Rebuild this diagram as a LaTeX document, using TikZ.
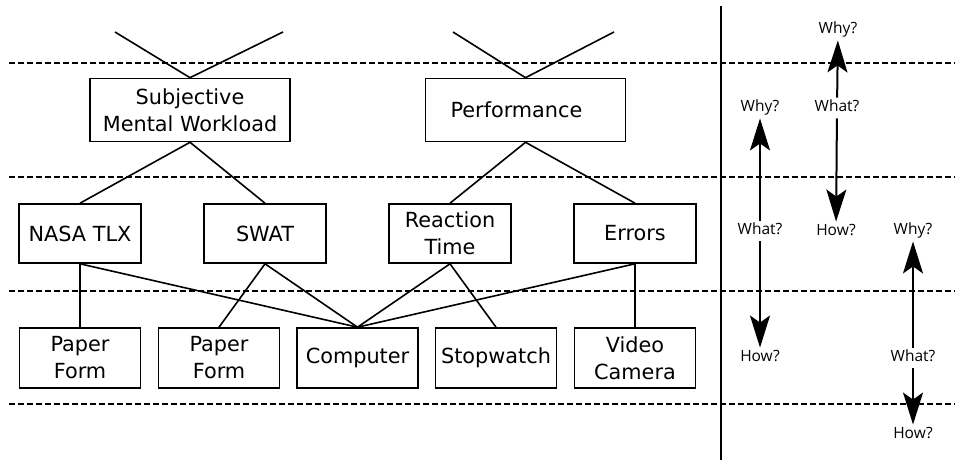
\documentclass[tikz,border=0pt]{standalone}
\usepackage{fontspec}
\setmainfont{DejaVu Sans}
\newfontfamily\qfont{Open Sans}
\usetikzlibrary{arrows.meta}

\begin{document}
\begin{tikzpicture}[x=1pt,y=-1pt,
  box/.style={draw, line width=1.6pt, inner sep=0pt, align=center,
    font=\fontsize{20.8}{27}\selectfont},
  topbox/.style={box, minimum width=200pt, minimum height=63pt},
  midbox/.style={box, minimum width=122pt, minimum height=59pt},
  lowbox/.style={box, minimum width=121pt, minimum height=60pt},
  link/.style={line width=1.6pt},
  level/.style={line width=1.6pt, dash pattern=on 6pt off 3pt},
  qlabel/.style={font=\qfont\fontsize{15.5}{17}\selectfont, inner sep=3pt,
    text height=11pt, text depth=3.5pt},
  qarrow/.style={line width=2pt, -{Stealth[length=32pt, width=20pt, inset=7pt]}}
]
\useasboundingbox (0,0) rectangle (955,462);

% level separators and the divider
\draw[level] (9,63) -- (955,63);
\draw[level] (9,177) -- (955,177);
\draw[level] (9,291) -- (955,291);
\draw[level] (9,404) -- (955,404);
\draw[line width=1.8pt] (721,6) -- (721,460);

% goals
\node[topbox] (smw) at (190,110) {Subjective\\Mental Workload};
\node[topbox, label={[font=\fontsize{20.8}{27}\selectfont, xshift=-9pt]center:Performance}] (perf) at (525.5,110) {};

% measures
\node[midbox] (nasa) at (80,233.5) {NASA TLX};
\node[midbox] (swat) at (265,233.5) {SWAT};
\node[midbox] (rt)   at (450,233.5) {Reaction\\Time};
\node[midbox] (err)  at (635,233.5) {Errors};

% instruments
\node[lowbox] (pf1)   at (80,358)    {Paper\\Form};
\node[lowbox] (pf2)   at (219,358)   {Paper\\Form};
\node[lowbox] (comp)  at (357.5,358) {Computer};
\node[lowbox] (stop)  at (496,358)   {Stopwatch};
\node[lowbox] (video) at (635,358)   {Video\\Camera};

% links to higher goals
\coordinate (u1) at (115,32);
\coordinate (u2) at (283,32);
\coordinate (u3) at (453,32);
\coordinate (u4) at (614,32);
\draw[link] (u1) -- (smw.north);
\draw[link] (u2) -- (smw.north);
\draw[link] (u3) -- (perf.north);
\draw[link] (u4) -- (perf.north);

% goals to measures
\draw[link] (smw.south) -- (nasa.north);
\draw[link] (smw.south) -- (swat.north);
\draw[link] (perf.south) -- (rt.north);
\draw[link] (perf.south) -- (err.north);

% measures to instruments
\draw[link] (nasa.south) -- (pf1.north);
\draw[link] (nasa.south) -- (comp.north);
\draw[link] (swat.south) -- (pf2.north);
\draw[link] (swat.south) -- (comp.north);
\draw[link] (rt.south) -- (comp.north);
\draw[link] (rt.south) -- (stop.north);
\draw[link] (err.south) -- (comp.north);
\draw[link] (err.south) -- (video.north);

% why / what / how ladders
\node[qlabel] (whyA)  at (838,30)  {Why?};
\node[qlabel] (whatA) at (837,108) {What?};
\node[qlabel] (howA)  at (836,232) {How?};
\draw[qarrow] (whatA) -- (whyA);
\draw[qarrow] (whatA) -- (howA);

\node[qlabel] (whyB)  at (760,108) {Why?};
\node[qlabel] (whatB) at (760,231) {What?};
\node[qlabel] (howB)  at (760,358) {How?};
\draw[qarrow] (whatB) -- (whyB);
\draw[qarrow] (whatB) -- (howB);

\node[qlabel] (whyC)  at (913,231) {Why?};
\node[qlabel] (whatC) at (913,358) {What?};
\node[qlabel] (howC)  at (913,435) {How?};
\draw[qarrow] (whatC) -- (whyC);
\draw[qarrow] (whatC) -- (howC);
\end{tikzpicture}
\end{document}
